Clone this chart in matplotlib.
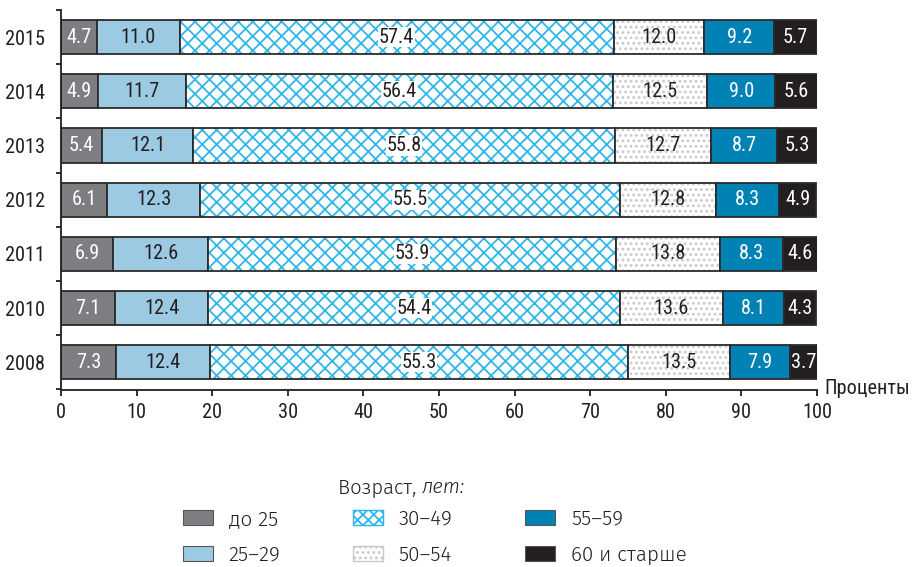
import matplotlib
matplotlib.use("Agg")
import matplotlib.pyplot as plt
from matplotlib.patches import Patch
import numpy as np

years = ["2008", "2010", "2011", "2012", "2013", "2014", "2015"]
groups = ["до 25", "25–29", "30–49", "50–54", "55–59", "60 и старше"]
v_u25 = [7.3, 7.1, 6.9, 6.1, 5.4, 4.9, 4.7]
v_25_29 = [12.4, 12.4, 12.6, 12.3, 12.1, 11.7, 11.0]
v_30_49 = [55.3, 54.4, 53.9, 55.5, 55.8, 56.4, 57.4]
v_50_54 = [13.5, 13.6, 13.8, 12.8, 12.7, 12.5, 12.0]
v_55_59 = [7.9, 8.1, 8.3, 8.3, 8.7, 9.0, 9.2]
v_60p = [3.7, 4.3, 4.6, 4.9, 5.3, 5.6, 5.7]
xticks = [0, 10, 20, 30, 40, 50, 60, 70, 80, 90, 100]

series = [v_u25, v_25_29, v_30_49, v_50_54, v_55_59, v_60p]
faces = ["#7d7e82", "#9ccae2", "white", "white", "#0083b4", "#231f20"]
hatches = [None, None, "xxx", "....", None, None]
leg_hatches = [None, None, "xxxx", "....", None, None]
hatch_cols = [None, None, "#2fb6ea", "#cacaca", None, None]
txt_cols = ["white", "#231f20", "#231f20", "#231f20", "white", "white"]
EDGE = "#2b2b2b"
TXT = "#231f20"

DPI = 130
W, H = 912, 567
plt.rcParams["hatch.linewidth"] = 1.0
cond = ["Roboto Condensed", "DejaVu Sans"]
leg_font = ["Fira Sans", "DejaVu Sans"]
FS = 11.2
FW = "normal"

fig = plt.figure(figsize=(W / DPI, H / DPI), dpi=DPI)
ax = fig.add_axes([61 / W, 1 - 389.5 / H, 756 / W, 379.5 / H])

y = np.arange(len(years))
left = np.zeros(len(years))
bh = 0.63
for s, fc, h, hc, tc in zip(series, faces, hatches, hatch_cols, txt_cols):
    vals = np.array(s)
    if h:
        ax.barh(y, vals, left=left, height=bh, color="white", edgecolor=hc,
                hatch=h, linewidth=0)
        ax.barh(y, vals, left=left, height=bh, fill=False, edgecolor=EDGE,
                linewidth=1.0)
    else:
        ax.barh(y, vals, left=left, height=bh, color=fc, edgecolor=EDGE,
                linewidth=1.0)
    for yi, l, v in zip(y, left, vals):
        kw = {}
        if h == "xxx":
            kw["bbox"] = dict(facecolor="white", edgecolor="none", pad=0.3)
        ax.text(l + v / 2, yi, f"{v:.1f}", ha="center", va="center",
                color=tc, fontsize=FS, family=cond, weight=FW, **kw)
    left += vals

ax.set_xlim(0, 100)
ax.set_ylim(-0.5, 6.5)
ax.set_xticks(xticks)
ax.set_xticklabels([str(t) for t in xticks], family=cond, fontsize=FS,
                   color=TXT, weight=FW)
ax.set_yticks(y)
ax.set_yticklabels(years, family=cond, fontsize=FS, color=TXT, weight=FW)
ax.set_yticks(np.arange(-0.5, 7, 1.0), minor=True)
ax.tick_params(axis="y", which="major", length=0, pad=9)
ax.tick_params(axis="y", which="minor", length=3, width=1, color=TXT)
ax.tick_params(axis="x", length=3.5, width=1, color=TXT, pad=4)
for sp in ["top", "right"]:
    ax.spines[sp].set_visible(False)
for sp in ["left", "bottom"]:
    ax.spines[sp].set_color(TXT)
    ax.spines[sp].set_linewidth(1.0)

fig.text(910 / W, 1 - 388 / H, "Проценты", ha="right", va="center",
         family=cond, fontsize=FS, color=TXT, weight=FW)

# legend title
fig.text(422 / W, 1 - 487 / H, "Возраст, ", ha="right", va="center",
         family=leg_font, fontsize=11.2, color=TXT, weight=300)
fig.text(422 / W, 1 - 487 / H, "лет:", ha="left", va="center",
         family=leg_font, fontsize=11.2, style="italic", color=TXT, weight=300)

handles = []
for g, fc, h, hc in zip(groups, faces, leg_hatches, hatch_cols):
    if h:
        handles.append(Patch(facecolor="white", edgecolor=hc, hatch=h,
                             linewidth=0.8, label=g))
    else:
        handles.append(Patch(facecolor=fc, edgecolor="#555555", linewidth=0.6,
                             label=g))
leg = fig.legend(handles=handles, ncol=3, loc="upper left",
                 bbox_to_anchor=(183 / W, 1 - 509 / H), frameon=False,
                 prop={"family": leg_font, "size": 11.5, "weight": 300},
                 handlelength=1.45, handleheight=0.7, handletextpad=0.75,
                 columnspacing=3.5, labelspacing=0.8, borderpad=0,
                 borderaxespad=0)
for t in leg.get_texts():
    t.set_color(TXT)

fig.savefig("out.png", dpi=DPI)
